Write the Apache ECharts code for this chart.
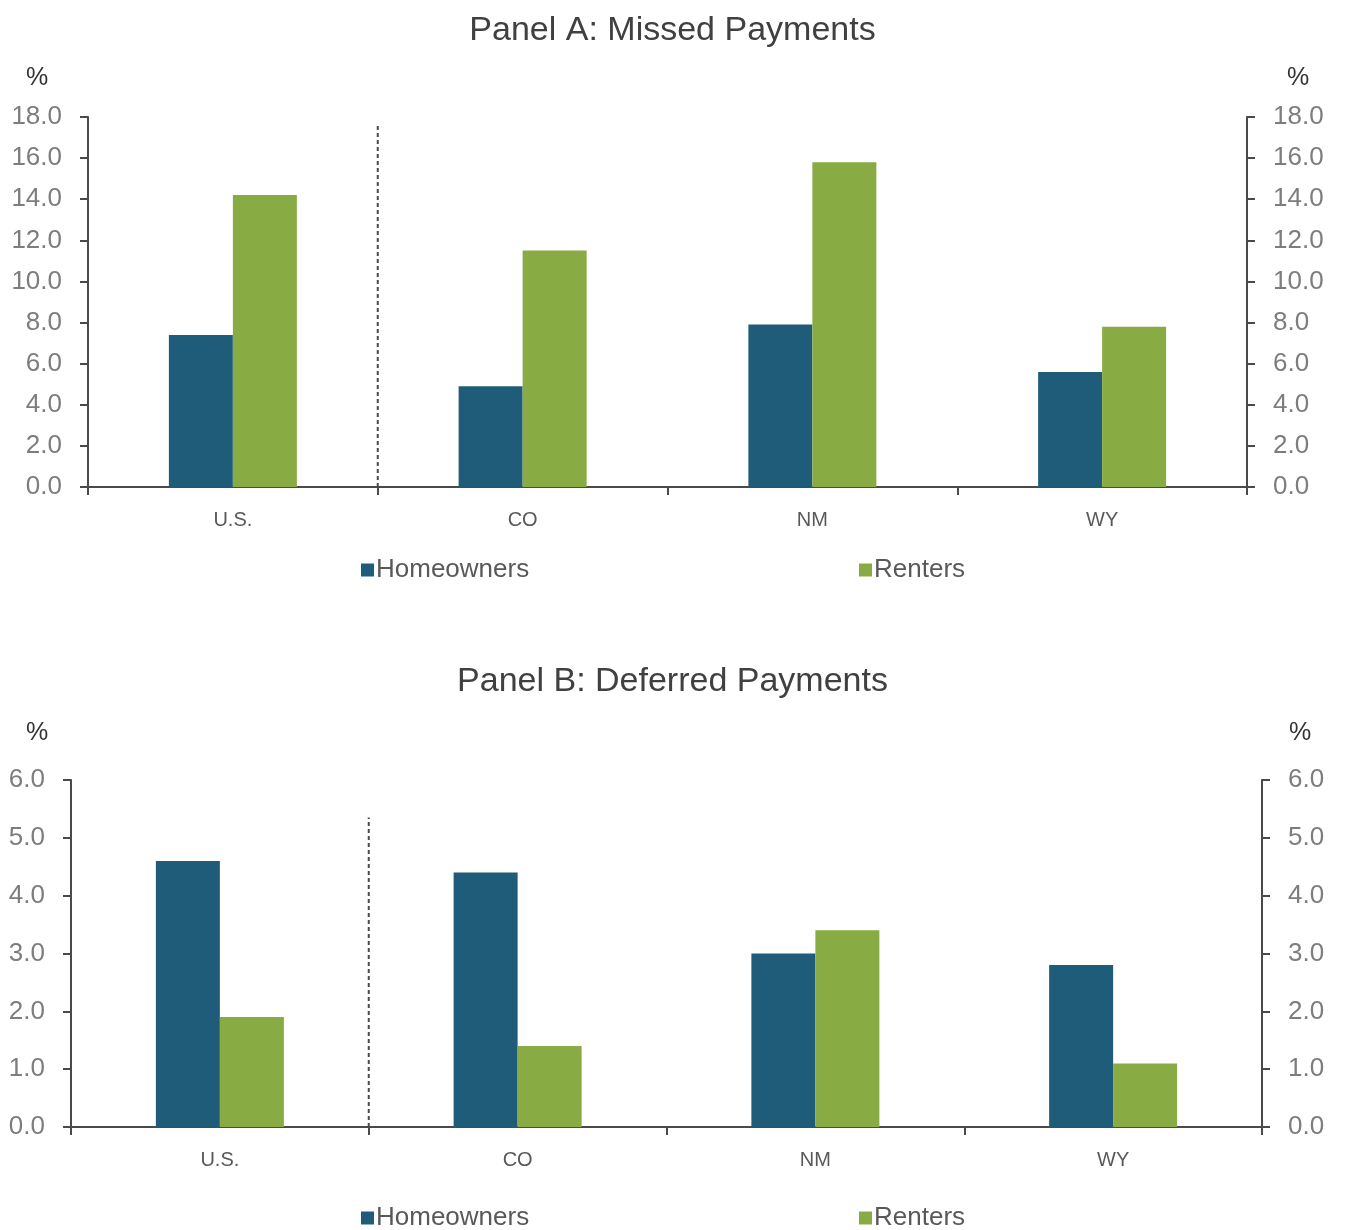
<!DOCTYPE html>
<html>
<head>
<meta charset="utf-8">
<title>Missed and Deferred Housing Payments</title>
<script src="https://cdn.jsdelivr.net/npm/echarts@6/dist/echarts.min.js"></script>
<style>
  html, body { margin: 0; padding: 0; background: #ffffff; }
  #chart { width: 1345px; height: 1230px; }
</style>
</head>
<body>
<div id="chart"></div>
<script>
// Categories (U.S. total followed by the three states)
const categories = ['U.S.', 'CO', 'NM', 'WY'];

// Panel A: share missing payments, %
const missedHomeowners = [7.4, 4.9, 7.9, 5.6];
const missedRenters = [14.2, 11.5, 15.8, 7.8];

// Panel B: share deferring payments, %
const deferredHomeowners = [4.6, 4.4, 3.0, 2.8];
const deferredRenters = [1.9, 1.4, 3.4, 1.1];

// Separator between the national figure and the states: [x boundary, y from, y to]
const separatorA = [[1, 0], [1, 17.7]];
const separatorB = [[1, 0], [1, 5.35]];

// Axis scales
const axisA = { min: 0, max: 18, interval: 2 };
const axisB = { min: 0, max: 6, interval: 1 };

const BLUE = '#1f5c79';
const GREEN = '#88ab43';
const AXIS = '#4a4a4a';
const FONT = '"Liberation Sans", Arial, sans-serif';

const chart = echarts.init(document.getElementById('chart'), null, { renderer: 'canvas' });

function valueAxis(gridIndex, scale, side, nameGap, shift) {
  return {
    type: 'value',
    gridIndex: gridIndex,
    position: side,
    min: scale.min,
    max: scale.max,
    interval: scale.interval,
    name: '%',
    nameLocation: 'end',
    nameGap: nameGap,
    nameTextStyle: {
      color: '#333333',
      fontFamily: FONT,
      fontSize: 25,
      align: 'center',
      padding: side === 'left' ? [0, shift * 2, 0, 0] : [0, 0, 0, shift * 2]
    },
    axisLine: { show: true, lineStyle: { color: AXIS, width: 2 } },
    axisTick: { show: true, inside: false, length: 8, lineStyle: { color: AXIS, width: 2 } },
    splitLine: { show: false },
    axisLabel: {
      color: '#7d7d7d',
      fontFamily: FONT,
      fontSize: 26,
      margin: 26,
      formatter: v => v.toFixed(1)
    }
  };
}

function categoryAxis(gridIndex) {
  return {
    type: 'category',
    gridIndex: gridIndex,
    data: categories,
    boundaryGap: true,
    axisLine: { show: true, lineStyle: { color: AXIS, width: 2 } },
    axisTick: { show: true, length: 8, lineStyle: { color: AXIS, width: 2 } },
    axisLabel: { color: '#595959', fontFamily: FONT, fontSize: 20, margin: 23 }
  };
}

function hiddenAxis(gridIndex) {
  return { type: 'value', gridIndex: gridIndex, min: 0, max: 4, show: false };
}

function bars(name, data, xi, yi, color) {
  return {
    name: name,
    type: 'bar',
    xAxisIndex: xi,
    yAxisIndex: yi,
    data: data,
    barWidth: 64,
    barGap: '0%',
    itemStyle: { color: color },
    silent: true
  };
}

function separator(data, xi, yi) {
  return {
    type: 'line',
    xAxisIndex: xi,
    yAxisIndex: yi,
    data: data,
    symbol: 'none',
    silent: true,
    lineStyle: { color: AXIS, width: 2, type: [4, 3] },
    z: 1
  };
}

function legendItem(name, left, top) {
  return {
    data: [name],
    left: left,
    top: top,
    itemWidth: 13,
    itemHeight: 13,
    itemGap: 4,
    icon: 'rect',
    selectedMode: false,
    textStyle: { color: '#595959', fontFamily: FONT, fontSize: 26, padding: [0, 0, 0, -3] }
  };
}

const option = {
  backgroundColor: '#ffffff',
  animation: false,
  title: [
    {
      text: 'Panel A: Missed Payments',
      left: 'center',
      top: 9,
      textStyle: { color: '#404040', fontFamily: FONT, fontSize: 34, fontWeight: 'normal' }
    },
    {
      text: 'Panel B: Deferred Payments',
      left: 'center',
      top: 660,
      textStyle: { color: '#404040', fontFamily: FONT, fontSize: 34, fontWeight: 'normal' }
    }
  ],
  legend: [
    legendItem('Homeowners', 356, 552),
    legendItem('Renters', 854, 552),
    legendItem('Homeowners', 356, 1200),
    legendItem('Renters', 854, 1200)
  ],
  grid: [
    { left: 88, right: 98, top: 117, height: 370 },
    { left: 71, right: 83, top: 780, height: 347 }
  ],
  xAxis: [
    categoryAxis(0),
    hiddenAxis(0),
    categoryAxis(1),
    hiddenAxis(1)
  ],
  yAxis: [
    valueAxis(0, axisA, 'left', 26, 51),
    valueAxis(0, axisA, 'right', 26, 51),
    valueAxis(1, axisB, 'left', 34, 34),
    valueAxis(1, axisB, 'right', 34, 38)
  ],
  series: [
    bars('Homeowners', missedHomeowners, 0, 0, BLUE),
    bars('Renters', missedRenters, 0, 0, GREEN),
    separator(separatorA, 1, 0),
    bars('Homeowners', deferredHomeowners, 2, 2, BLUE),
    bars('Renters', deferredRenters, 2, 2, GREEN),
    separator(separatorB, 3, 2)
  ]
};

chart.setOption(option);
</script>
</body>
</html>
